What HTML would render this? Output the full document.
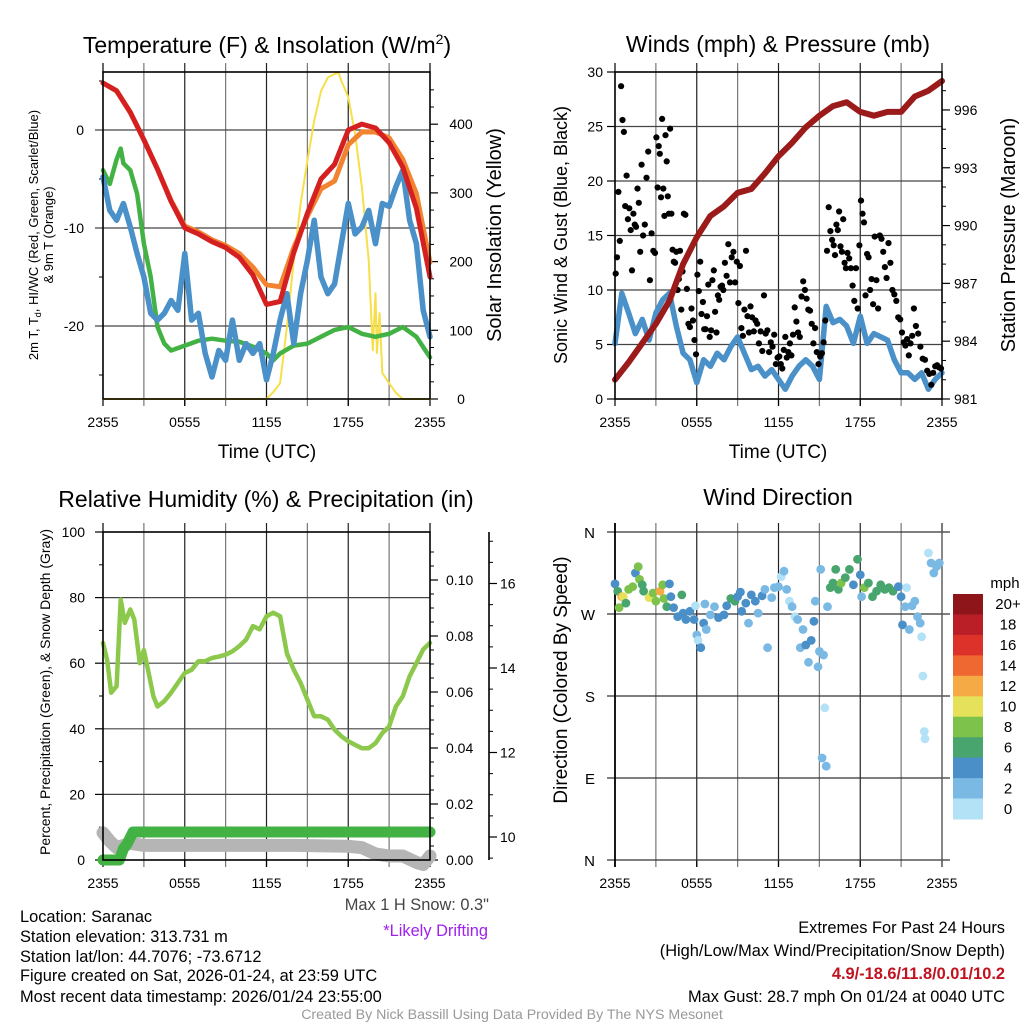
<!DOCTYPE html>
<html><head><meta charset="utf-8">
<style>
html,body{margin:0;padding:0;background:#fff;}
svg{display:block;font-family:"Liberation Sans",sans-serif;}
</style></head>
<body>
<svg id="chart" width="1024" height="1024" viewBox="0 0 1024 1024" xmlns="http://www.w3.org/2000/svg">
<rect width="1024" height="1024" fill="#fff"/>
<g id="p1"></g>
<g id="p2"></g>
<g id="p3"></g>
<g id="p4"></g>
<text x="267" y="53" font-size="23" text-anchor="middle">Temperature (F) &amp; Insolation (W/m<tspan dy="-9" font-size="14">2</tspan><tspan dy="9">)</tspan></text>
<text x="778" y="52" font-size="23" text-anchor="middle">Winds (mph) &amp; Pressure (mb)</text>
<text x="266" y="507" font-size="23" text-anchor="middle">Relative Humidity (%) &amp; Precipitation (in)</text>
<text x="778" y="505" font-size="23" text-anchor="middle">Wind Direction</text>
<text x="267" y="458" font-size="19" text-anchor="middle">Time (UTC)</text>
<text x="778" y="458" font-size="19" text-anchor="middle">Time (UTC)</text>
<text transform="translate(38,235) rotate(-90)" font-size="13" text-anchor="middle">2m T, T<tspan dy="3" font-size="9">d</tspan><tspan dy="-3">, HI/WC (Red, Green, Scarlet/Blue)</tspan></text>
<text transform="translate(53,235) rotate(-90)" font-size="13" text-anchor="middle">&amp; 9m T (Orange)</text>
<text transform="translate(501,235) rotate(-90)" font-size="20" text-anchor="middle">Solar Insolation (Yellow)</text>
<text transform="translate(567,235) rotate(-90)" font-size="18" text-anchor="middle">Sonic Wind &amp; Gust (Blue, Black)</text>
<text transform="translate(1015,235) rotate(-90)" font-size="20" text-anchor="middle">Station Pressure (Maroon)</text>
<text transform="translate(50,692) rotate(-90)" font-size="14" text-anchor="middle">Percent, Precipitation (Green), &amp; Snow Depth (Gray)</text>
<text transform="translate(567,680) rotate(-90)" font-size="19" text-anchor="middle">Direction (Colored By Speed)</text>
<g font-size="16.4">
<text x="20" y="922">Location: Saranac</text>
<text x="20" y="942">Station elevation: 313.731 m</text>
<text x="20" y="962">Station lat/lon: 44.7076; -73.6712</text>
<text x="20" y="981">Figure created on Sat, 2026-01-24, at 23:59 UTC</text>
<text x="20" y="1002">Most recent data timestamp: 2026/01/24 23:55:00</text>
<text x="489" y="910" text-anchor="end" fill="#444">Max 1 H Snow: 0.3"</text>
<text x="488" y="936" text-anchor="end" fill="#a020f0">*Likely Drifting</text>
<text x="1005" y="933" text-anchor="end">Extremes For Past 24 Hours</text>
<text x="1005" y="956" text-anchor="end">(High/Low/Max Wind/Precipitation/Snow Depth)</text>
<text x="1005" y="979" text-anchor="end" fill="#c1121f" font-weight="bold">4.9/-18.6/11.8/0.01/10.2</text>
<text x="1005" y="1002" text-anchor="end">Max Gust: 28.7 mph On 01/24 at 0040 UTC</text>
<text x="512" y="1019" text-anchor="middle" fill="#999" font-size="14.2">Created By Nick Bassill Using Data Provided By The NYS Mesonet</text>
</g>
</svg>
<script>
// ---- data ----
const hourly = [0,1,2,3,4,5,6,7,8,9,10,11,12,13,14,15,16,17,18,19,20,21,22,23,24];
const tempRed = [4.8,4.0,1.8,-1.0,-4.0,-7.3,-10.0,-10.6,-11.4,-12.0,-13.0,-14.8,-17.8,-17.5,-12.5,-8.5,-5.0,-3.5,0.0,0.6,0.2,-1.3,-3.8,-8.0,-15.0];
const tempOrange = [4.8,4.0,1.8,-1.0,-4.0,-7.2,-9.8,-10.4,-11.2,-11.8,-12.6,-14.0,-15.8,-16.0,-12.0,-8.8,-6.0,-5.2,-1.5,-0.2,-0.2,-0.8,-3.0,-6.5,-13.5];
const dewHours = [0,0.5,1,1.3,1.5,2,2.5,3,3.5,4,4.5,5,6,7,8,9,10,11,12,12.5,13,14,15,16,17,18,19,20,21,22,23,24];
const dewGreen = [-4.1,-5.5,-3.0,-1.9,-3.4,-4.1,-6.5,-11.6,-15.0,-20.1,-21.8,-22.5,-22.0,-21.5,-21.3,-21.5,-21.6,-22.1,-22.8,-23.5,-22.8,-22.0,-21.8,-21.1,-20.4,-20.1,-20.8,-21.1,-20.8,-20.1,-21.1,-23.2];
const halfHours = [0,0.5,1,1.5,2,2.5,3,3.5,4,4.5,5,5.5,6,6.5,7,7.5,8,8.5,9,9.5,10,10.5,11,11.5,12,12.5,13,13.5,14,14.5,15,15.5,16,16.5,17,17.5,18,18.5,19,19.5,20,20.5,21,21.5,22,22.5,23,23.5,24];
const chillBlue = [-4.8,-8.2,-9.2,-7.5,-9.9,-12.6,-15.0,-18.7,-19.4,-18.7,-17.4,-18.4,-12.6,-19.4,-18.7,-22.8,-25.2,-22.5,-23.5,-19.4,-23.5,-21.8,-22.8,-21.8,-25.5,-22.8,-19.4,-16.7,-21.8,-16.7,-13.3,-9.2,-15.0,-16.7,-15.7,-11.6,-7.5,-10.6,-9.9,-8.2,-11.6,-7.5,-7.8,-5.8,-4.1,-9.2,-11.6,-18.4,-21.1];
const solarHours = [0,12,12.5,13,13.5,14,14.5,15,15.5,16,16.5,17,17.3,17.5,18,18.5,19,19.5,19.8,20,20.1,20.3,20.5,21,21.5,22,24];
const solarYellow = [0,0,10,23,105,202,284,347,405,448,468,473,475,463,439,386,308,202,71,154,67,125,38,23,9,0,0];
const windBlue = [5.1,9.7,7.9,6.0,7.3,5.4,7.9,9.1,9.7,6.7,4.2,3.6,1.5,3.6,3.0,4.2,3.6,4.8,5.7,4.2,2.7,3.0,2.1,2.7,1.8,0.9,2.1,3.0,3.6,3.0,1.8,8.5,7.0,7.3,6.7,5.1,7.6,5.1,6.0,5.7,5.4,3.6,2.4,2.4,1.8,2.4,0.9,1.8,2.4];
const pressure = [982.0,982.9,983.9,984.9,986.1,988.0,989.4,990.5,991.0,991.7,991.9,992.7,993.6,994.3,995.1,995.7,996.2,996.4,995.9,995.7,995.9,995.9,996.7,997.0,997.5];
const gustByHour = [
 [11.5,13,19,14.5,28.7,25.6,24.5,17.7,20.5,16.5],
 [17.5,15.5,11.8,17,16,15.8,19.3,18,13.5,21.5],
 [15,16,20.3,22.7,10.9,15.2,13.6,13.4],
 [24,19.4,23.2,22.5,18.5,25.7,19.3,16.8,24.2,21.8,18.6,17],
 [24.8,17,13.7,12.6,12.5,13.5,10,11,13.6,8.2,11.7],
 [17,16.9,10.1,6.9,6.6,8.3,7.2,5.4,4.1],
 [11.4,9.9,12.6,7.8,8.9,6.4,6.4,7.6,10.5,5.7],
 [6.3,10.9,11.8,8,6.1,9.5,9.1,10.3,10.4,10],
 [12.5,11.3,14.2,10.7,13,13.5,10.7,12.6],
 [8.8,12.2,6.5,5.8,8.2,13.6,7.6,6.1,8.5],
 [7.5,6.2,7.2,6.9,5.1,6.2,4.4,9.5],
 [6,6.3,4.3,5.2,4.8,5.9,3.2,3.8],
 [3.9,3.2,2.8,4.5,5.7,3.8,4.3,5.1,4],
 [5.9,8.4,7.1,6.1,5.7,9.4,10.8,10],
 [9.2,8.2,8.1,6.9,5.1,6.5,4.3,3.2],
 [3.9,4.2,5.2,7.2,13.6,17.6,15.4,14.6],
 [14.1,13.2,16,15.5,17.2,14,13.5,16.5,12.5,12],
 [13.4,12.9,12,10.4,9,12,8.3,14.1],
 [18.2,17,16.2,9.5,13.3,13,10,11,8.7],
 [14.9,10.9,8.3,15,14.7,13.5,12.1,11.1],
 [14.3,12.5,10,9.6,9,7.5,7.3],
 [6.1,5.2,4.9,5.5,4,5.1,5.8,8.3],
 [6.7,6,4.8,3.7,3.6,2.6],
 [2.3,1.3,2.4,3,3.1,2.9,2.8]
];
const rhHours = [0,0.3,0.6,1,1.3,1.6,2,2.3,2.7,3,3.3,3.7,4,4.5,5,5.5,6,6.5,7,7.5,8,8.5,9,9.5,10,10.5,11,11.5,12,12.5,13,13.5,14,14.5,15,15.5,16,16.5,17,17.5,18,18.5,19,19.5,20,20.5,21,21.5,22,22.5,23,23.5,24];
const rh = [66.2,61,51,53,79.4,72.3,76.4,73.3,60,64,58,49.9,46.8,48.4,51,54,57,58,60.6,60.6,61.6,62,62.6,63.6,65.2,67.2,71.3,70.3,74.3,75.4,74.3,63,58,54,48.9,43.8,43.8,42.8,39.7,37.7,36.2,35.1,34.1,34.1,35.6,38.7,40.7,46.8,49.9,56,60,64.2,66.2];
const precipHours = [0,1.2,1.5,1.8,2.2,24];
const precip = [0,0,0.004,0.006,0.01,0.01];
const snowHours = [0,0.5,1,2,3,6,10,14,18,19,20,21,22,23,23.5,24];
const snowDepth = [10.1,9.9,9.75,9.85,9.8,9.8,9.8,9.8,9.78,9.75,9.6,9.55,9.55,9.4,9.35,9.55];
const dirHours = [0,0.2,0.3,0.5,0.6,0.8,1,1.3,1.5,1.7,1.8,2,2.1,2.5,2.8,3,3.3,3.5,3.6,3.8,4,4.1,4.3,4.6,4.9,5,5.2,5.5,5.8,5.9,6,6.1,6.3,6.5,6.7,6.6,7,7.3,7.6,8,8.2,8.5,8.8,9,9.2,9.3,9.6,9.8,10,10.3,10.5,10.8,11,11.2,11.5,11.7,12,12.2,12.4,12.6,12.8,13,13.2,13.4,13.6,13.8,14,14.2,14.4,14.6,14.7,14.9,15,15.1,15.2,15.3,15.4,15.5,15.6,15.8,16,16.2,16.4,16.6,16.9,17.2,17.5,17.8,18,18.1,18.3,18.6,18.9,19.2,19.5,19.8,20.1,20.4,20.8,21,21.1,21.3,21.4,21.6,21.8,22,22.2,22.4,22.5,22.6,22.7,22.75,23,23.2,23.4,23.6,23.8];
const dirDeg = [303,295,277,289,289,282,297,300,315,322,308,302,295,288,293,284,295,302,287,278,303,289,277,267,291,271,264,273,264,279,247,241,233,260,253,281,269,278,266,269,279,287,284,289,294,273,282,260,291,284,271,290,297,233,288,299,300,311,317,297,284,278,267,264,233,253,236,217,241,262,284,212,229,319,112,225,167,103,278,299,304,319,297,304,310,319,302,330,313,289,299,304,289,295,302,297,299,295,300,289,258,278,299,253,279,284,267,260,245,202,141,133,337,326,315,322,326];
const dirSpeed = [4,7,8,12,10,6,8,8,4,8,8,6,6,10,8,8,12,8,8,6,4,4,4,4,6,4,4,4,4,0,2,0,4,4,2,2,2,2,4,4,4,6,6,4,4,4,4,2,4,4,2,4,2,2,2,2,2,0,2,2,0,2,0,2,2,2,4,2,4,4,2,2,2,2,2,2,0,2,2,6,6,6,6,8,6,6,4,6,4,2,8,6,6,6,6,6,6,6,4,4,4,2,0,2,2,2,2,2,0,0,0,0,0,2,2,2,2];
const speedLevels = ["0","2","4","6","8","10","12","14","16","18","20+"];
const speedColors = ["#b3e2f7","#7ab9e4","#4a8fc7","#48a56e","#7cc24b","#e6e15b","#f6aa46","#ef6731","#dd3229","#ba1e27","#8e161a"];
const xTickLabels = ["2355","0555","1155","1755","2355"];
const tempTicks = [0,-10,-20];
const solarTicks = [0,100,200,300,400];
const windTicks = [0,5,10,15,20,25,30];
const pressTicks = [981,984,987,990,993,996];
const rhTicks = [0,20,40,60,80,100];
const precipTicks = [0,0.02,0.04,0.06,0.08,0.10];
const snowTicks = [10,12,14,16];
const dirTicks = [0,90,180,270,360];
const dirLabels = ["N","E","S","W","N"];

// ---- scales ----
const NS = "http://www.w3.org/2000/svg";
const X0a = 103, X1a = 430, X0b = 615, X1b = 942;
const TOP = 72, BOT = 399, TOP2 = 532, BOT2 = 860;
const xa = h => X0a + h * (X1a - X0a) / 24;
const xb = h => X0b + h * (X1b - X0b) / 24;
const yTemp = t => 130 - t * 9.8;
const ySolar = w => BOT - w * 0.687;
const yWind = m => BOT - m * (BOT - TOP) / 30;
const yPress = p => BOT - (p - 981) * 19.27;
const yRH = r => BOT2 - r * (BOT2 - TOP2) / 100;
const yPrecip = v => BOT2 - v * 2800;
const ySnow = s => 837 - (s - 10) * 42.25;
const yDir = d => BOT2 - d * (BOT2 - TOP2) / 360;

function mk(parent, tag, attrs) {
  const e = document.createElementNS(NS, tag);
  for (const k in attrs) e.setAttribute(k, attrs[k]);
  parent.appendChild(e);
  return e;
}
function line(g, x1, y1, x2, y2, stroke, w, name) {
  const e = mk(g, "line", {x1: x1, y1: y1, x2: x2, y2: y2, stroke: stroke, "stroke-width": w});
  
  
  return e;
}
function text(g, x, y, s, size, anchor, name) {
  const e = mk(g, "text", {x: x, y: y, "font-size": size, "text-anchor": anchor});
  e.textContent = s;
  
  
  return e;
}
function path(g, xs, ys, fx, fy, stroke, w, name) {
  let d = "";
  for (let i = 0; i < xs.length; i++) d += (i ? "L" : "M") + fx(xs[i]).toFixed(1) + "," + fy(ys[i]).toFixed(1);
  const e = mk(g, "path", {d: d, fill: "none", stroke: stroke, "stroke-width": w, "stroke-linejoin": "round", "stroke-linecap": "round"});
  
  
  return e;
}
function frame(g, x0, x1, y0, y1, fx) {
  for (let h = 3; h < 24; h += 3) line(g, fx(h), y0 - 9, fx(h), y1 + 7, h % 6 ? "#777" : "#222", 1.2, "vertical-gridline");
  for (let h = 0; h <= 24; h += 6) line(g, fx(h), y1, fx(h), y1 + 7, "#000", 1.2, "x-tick");
  line(g, x0, y0 - 9, x0, y0, "#000", 1.2, "x-tick");
  line(g, x1, y0 - 9, x1, y0, "#000", 1.2, "x-tick");
  xTickLabels.forEach((s, i) => text(g, fx(i * 6), y1 + 28, s, 14, "middle", "x-tick-label"));
}
function box(g, x0, x1, y0, y1) {
  const r = mk(g, "rect", {x: x0, y: y0, width: x1 - x0, height: y1 - y0, fill: "none", stroke: "#000", "stroke-width": 1.6});
  
  
}

// ---- panel 1 ----
const p1 = document.getElementById("p1");
frame(p1, X0a, X1a, TOP, BOT, xa);
tempTicks.forEach(t => { line(p1, X0a - 8, yTemp(t), X1a, yTemp(t), "#444", 1.2, "temp-gridline"); text(p1, X0a - 19, yTemp(t) + 5, String(t), 14, "end", "temp-tick-label"); });
[5,-5,-15,-25].forEach(t => line(p1, X0a - 4, yTemp(t), X0a, yTemp(t), "#000", 1, "temp-minor-tick"));
solarTicks.forEach(w => { line(p1, X1a, ySolar(w), X1a + 8, ySolar(w), "#000", 1.2, "solar-tick"); text(p1, X1a + 31, ySolar(w) + 5, String(w), 14, "middle", "solar-tick-label"); });
for (let w = 25; w < 470; w += 25) if (w % 100) line(p1, X1a, ySolar(w), X1a + 4, ySolar(w), "#000", 1, "solar-minor-tick");
path(p1, solarHours, solarYellow, xa, ySolar, "#f7df4a", 2, "solar-insolation-line");
path(p1, dewHours, dewGreen, xa, yTemp, "#43b244", 4.5, "dewpoint-line");
path(p1, halfHours, chillBlue, xa, yTemp, "#4a90c9", 5.5, "wind-chill-line");
path(p1, hourly, tempOrange, xa, yTemp, "#f28330", 5, "temp-9m-line");
path(p1, hourly, tempRed, xa, yTemp, "#d42020", 5, "temp-2m-line");
box(p1, X0a, X1a, TOP, BOT);

// ---- panel 2 ----
const p2 = document.getElementById("p2");
frame(p2, X0b, X1b, TOP, BOT, xb);
windTicks.forEach(m => { if (m > 0 && m < 30) line(p2, X0b, yWind(m), X1b, yWind(m), "#444", 1.2, "wind-gridline"); line(p2, X0b - 8, yWind(m), X0b, yWind(m), "#000", 1.2, "wind-tick"); text(p2, X0b - 12, yWind(m) + 5, String(m), 14, "end", "wind-tick-label"); });
pressTicks.forEach(p => { line(p2, X1b, yPress(p), X1b + 8, yPress(p), "#000", 1.2, "pressure-tick"); text(p2, X1b + 12, yPress(p) + 5, String(p), 14, "start", "pressure-tick-label"); });
for (let p = 982; p < 998; p++) if ((p - 981) % 3) line(p2, X1b, yPress(p), X1b + 4, yPress(p), "#000", 1, "pressure-minor-tick");
path(p2, halfHours, windBlue, xb, yWind, "#4a90c9", 5.5, "sonic-wind-line");
gustByHour.forEach((arr, h) => arr.forEach((v, j) => {
  const c = mk(p2, "circle", {cx: xb(h + (j + 0.5) / arr.length).toFixed(1), cy: yWind(v).toFixed(1), r: 3.1, fill: "#000"});
  
  
}));
path(p2, hourly, pressure, xb, yPress, "#9b1a1a", 6, "pressure-line");
box(p2, X0b, X1b, TOP, BOT);

// ---- panel 3 ----
const p3 = document.getElementById("p3");
frame(p3, X0a, X1a, TOP2, BOT2, xa);
rhTicks.forEach(r => { if (r > 0 && r < 100) line(p3, X0a, yRH(r), X1a, yRH(r), "#444", 1.2, "rh-gridline"); line(p3, X0a - 8, yRH(r), X0a, yRH(r), "#000", 1.2, "rh-tick"); text(p3, X0a - 18, yRH(r) + 5, String(r), 14, "end", "rh-tick-label"); });
[10,30,50,70,90].forEach(r => line(p3, X0a - 4, yRH(r), X0a, yRH(r), "#000", 1, "rh-minor-tick"));
precipTicks.forEach(v => { line(p3, X1a, yPrecip(v), X1a + 8, yPrecip(v), "#000", 1.2, "precip-tick"); text(p3, X1a + 16, yPrecip(v) + 5, v.toFixed(2), 14, "start", "precip-tick-label"); });
for (let i = 1; i < 23; i++) if (i % 4) line(p3, X1a, yPrecip(i * 0.005), X1a + 4, yPrecip(i * 0.005), "#000", 1, "precip-minor-tick");
line(p3, 489, TOP2, 489, BOT2, "#000", 1.6, "snow-axis-line");
snowTicks.forEach(s => { line(p3, 489, ySnow(s), 497, ySnow(s), "#000", 1.2, "snow-tick"); text(p3, 500, ySnow(s) + 5, String(s), 14, "start", "snow-tick-label"); });
for (let s = 9.5; s < 17.5; s += 0.5) if (s % 2) line(p3, 489, ySnow(s), 493, ySnow(s), "#000", 1, "snow-minor-tick");
path(p3, snowHours, snowDepth, xa, ySnow, "#b5b5b5", 13, "snow-depth-line");
path(p3, precipHours, precip, xa, yPrecip, "#43b244", 11, "precip-line");
path(p3, rhHours, rh, xa, yRH, "#8cc84b", 4.5, "rh-line");
box(p3, X0a, X1a, TOP2, BOT2);

// ---- panel 4 ----
const p4 = document.getElementById("p4");
frame(p4, X0b, X1b, TOP2, BOT2, xb);
dirTicks.forEach((d, i) => { line(p4, X0b - 8, yDir(d), X1b + 8, yDir(d), "#333", 1.2, "direction-gridline"); text(p4, X0b - 20, yDir(d) + 6, dirLabels[i], 15, "end", "direction-tick-label"); });
line(p4, X0b, TOP2 - 9, X0b, BOT2 + 7, "#000", 1.8, "direction-left-axis");
line(p4, X1b, TOP2 - 9, X1b, BOT2 + 7, "#555", 1.4, "direction-right-axis");
dirHours.forEach((h, i) => {
  const ci = Math.min(10, Math.floor(dirSpeed[i] / 2));
  const c = mk(p4, "circle", {cx: xb(h).toFixed(1), cy: yDir(dirDeg[i]).toFixed(1), r: 4.4, fill: speedColors[ci]});
  
  
});
const cbTop = 594, cbBot = 819, cbH = (cbBot - cbTop) / speedLevels.length;
text(p4, 1005, 588, "mph", 15, "middle", "colorbar-title");
speedLevels.forEach((s, i) => {
  const k = speedLevels.length - 1 - i;
  const r = mk(p4, "rect", {x: 953, y: (cbTop + i * cbH).toFixed(1), width: 30, height: (cbH + 0.5).toFixed(1), fill: speedColors[k]});
  
  
  text(p4, 1008, cbTop + i * cbH + cbH / 2 + 5, speedLevels[k], 15, "middle", "colorbar-label");
});
</script>
</body></html>
